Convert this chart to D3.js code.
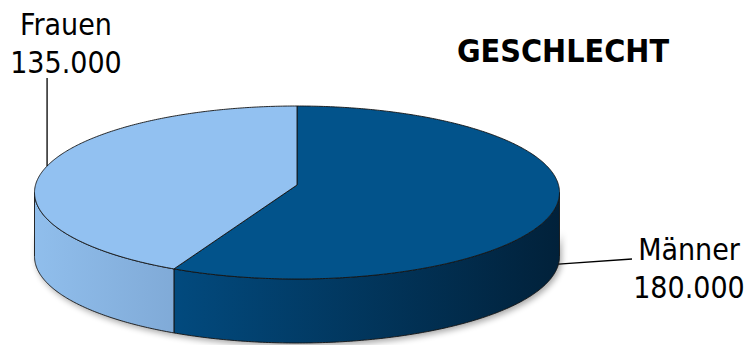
<!DOCTYPE html>
<html>
<head>
<meta charset="utf-8">
<script src="https://cdn.jsdelivr.net/npm/d3@7"></script>
<style>
  html, body { margin: 0; padding: 0; background: #ffffff; }
  svg { display: block; }
  text { font-family: "DejaVu Sans Condensed", "DejaVu Sans", sans-serif; font-stretch: condensed; fill: #000; }
</style>
</head>
<body>
<svg id="chart" width="753" height="345"></svg>
<script>
// Data
const title = "GESCHLECHT";
const categories = ["Männer", "Frauen"];
const values = [180000, 135000];
const topColors = ["#02538b", "#92c1f1"];
const sideColorsStart = ["#024a7e", "#90beec"];
const sideColorsEnd = ["#01213a", "#80aad7"];

// German number format: 180.000
const de = d3.formatLocale({ decimal: ",", thousands: ".", grouping: [3], currency: ["", " €"] });
const fmt = de.format(",");

const W = 753, H = 345;
const svg = d3.select("#chart");

// Projected disk geometry (slight perspective: far half compressed)
const cx = 297, cy = 185;      // projected pie centre
const A = 261.5, B = 85.85;    // horizontal / vertical radii
const k = 0.0867;              // perspective factor
const depth = 64;              // thickness of the pie

function proj(theta, dz = 0) {
  const u = Math.sin(theta), w = Math.cos(theta);
  const s = 1 / (1 + k * w);
  return [cx + A * u * s, cy - B * w * s + dz];
}
function arcPoints(a0, a1, dz = 0) {
  const n = Math.max(2, Math.ceil(Math.abs(a1 - a0) / 0.01));
  const pts = [];
  for (let i = 0; i <= n; i++) pts.push(proj(a0 + (a1 - a0) * i / n, dz));
  return pts;
}

const pie = d3.pie().sort(null).value(d => d.value).startAngle(0).endAngle(2 * Math.PI);
const arcs = pie(categories.map((c, i) => ({ name: c, value: values[i], i })));

const defs = svg.append("defs");
const blur = defs.append("filter").attr("id", "shadow").attr("x", "-10%").attr("y", "-10%").attr("width", "120%").attr("height", "130%");
blur.append("feGaussianBlur").attr("stdDeviation", 3);

arcs.forEach((a, i) => {
  const g = defs.append("linearGradient").attr("id", "side" + i)
    .attr("gradientUnits", "userSpaceOnUse");
  if (i === 0) g.attr("x1", 175).attr("x2", 560); else g.attr("x1", 35).attr("x2", 176);
  g.attr("y1", 0).attr("y2", 0);
  g.append("stop").attr("offset", 0).attr("stop-color", sideColorsStart[i]);
  g.append("stop").attr("offset", 1).attr("stop-color", sideColorsEnd[i]);
});

const line = d3.line();

// Visible front part of the outer wall
const thR = Math.PI / 2 + Math.asin(k);
const thL = 3 * Math.PI / 2 - Math.asin(k);

// Soft shadow under the front wall
const shadowPts = arcPoints(thR, thL, depth).concat(arcPoints(thL, thR, depth - 30));
svg.append("path")
  .attr("d", line(shadowPts) + "Z")
  .attr("transform", "translate(2,3)")
  .attr("fill", "#000").attr("opacity", 0.35)
  .attr("filter", "url(#shadow)");

const stroke = "#141414", sw = 0.9;

// Side walls
arcs.forEach((a, i) => {
  const s0 = Math.max(a.startAngle, thR), s1 = Math.min(a.endAngle, thL);
  if (s1 <= s0) return;
  const pts = arcPoints(s0, s1, 0).concat(arcPoints(s1, s0, depth));
  svg.append("path")
    .attr("d", line(pts) + "Z")
    .attr("fill", `url(#side${i})`)
    .attr("stroke", stroke).attr("stroke-width", sw).attr("stroke-linejoin", "round");
});

// Top faces
arcs.forEach((a, i) => {
  const pts = [[cx, cy]].concat(arcPoints(a.startAngle, a.endAngle, 0));
  svg.append("path")
    .attr("d", line(pts) + "Z")
    .attr("fill", topColors[i])
    .attr("stroke", stroke).attr("stroke-width", sw).attr("stroke-linejoin", "round");
});

// Labels with leader lines
const labelSpec = [
  { angle: 100 * Math.PI / 180, dz: depth, end: [632, 259], tx: 689, ty: 260, anchor: "middle" },
  { angle: 283 * Math.PI / 180, dz: 0, end: null, tx: 66, ty: 35, anchor: "middle" }
];
arcs.forEach((a, i) => {
  const sp = labelSpec[i];
  const p = proj(sp.angle, sp.dz);
  const e = sp.end ? sp.end : [p[0], 78];
  svg.append("line")
    .attr("x1", p[0]).attr("y1", p[1]).attr("x2", e[0]).attr("y2", e[1])
    .attr("stroke", "#000").attr("stroke-width", 1.3);
  const t = svg.append("text")
    .attr("x", sp.tx).attr("y", sp.ty)
    .attr("text-anchor", sp.anchor)
    .attr("font-size", 30);
  t.append("tspan").attr("x", sp.tx).text(a.data.name);
  t.append("tspan").attr("x", sp.tx).attr("dy", 38).text(fmt(a.data.value));
});

// Title
svg.append("text")
  .attr("x", 563).attr("y", 62)
  .attr("text-anchor", "middle")
  .attr("font-size", 32).attr("font-weight", "bold")
  .text(title);
</script>
</body>
</html>
